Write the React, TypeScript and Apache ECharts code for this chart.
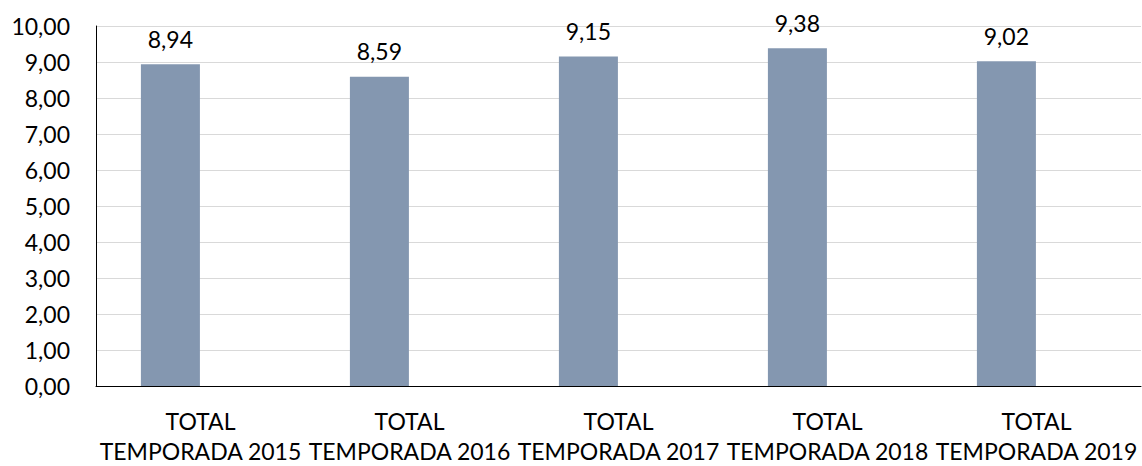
import React, { useEffect, useRef } from "react";
import * as echarts from "echarts";

const categories = [
  "TOTAL\nTEMPORADA 2015",
  "TOTAL\nTEMPORADA 2016",
  "TOTAL\nTEMPORADA 2017",
  "TOTAL\nTEMPORADA 2018",
  "TOTAL\nTEMPORADA 2019",
];
const values = [8.94, 8.59, 9.15, 9.38, 9.02];
const emptySeries: (number | string)[] = ["-", "-", "-", "-", "-"];

const fmt = (v: number) => v.toFixed(2).replace(".", ",");
const FONT = "Lato";

export default function App() {
  const ref = useRef<HTMLDivElement>(null);
  useEffect(() => {
    if (!ref.current) return;
    const chart = echarts.init(ref.current, null, { renderer: "svg" });
    chart.setOption({
      animation: false,
      backgroundColor: "#ffffff",
      grid: { left: 96, right: 1, top: 26, bottom: 78, containLabel: false },
      xAxis: {
        type: "category",
        data: categories,
        axisLine: { show: true, lineStyle: { color: "#000000", width: 1 } },
        axisTick: { show: false },
        axisLabel: {
          color: "#000000",
          fontFamily: FONT,
          fontSize: 23,
          lineHeight: 30,
          margin: 20,
          interval: 0,
        },
      },
      yAxis: {
        type: "value",
        min: 0,
        max: 10,
        interval: 1,
        axisLine: { show: true, lineStyle: { color: "#000000", width: 1 } },
        axisTick: { show: false },
        axisLabel: {
          color: "#000000",
          fontFamily: FONT,
          fontSize: 23,
          margin: 26,
          formatter: (v: number) => fmt(v),
        },
        splitLine: { show: true, lineStyle: { color: "#d9d9d9", width: 1 } },
      },
      series: [
        {
          type: "bar",
          data: values,
          barWidth: 59,
          barGap: "2%",
          itemStyle: { color: "#8497b0" },
          label: {
            show: true,
            position: "top",
            distance: 14,
            color: "#000000",
            fontFamily: FONT,
            fontSize: 23,
            formatter: (p: any) => fmt(p.value),
          },
        },
        {
          type: "bar",
          data: emptySeries,
          barWidth: 59,
          itemStyle: { color: "#8497b0" },
        },
      ],
    });
    return () => chart.dispose();
  }, []);
  return (
    <div
      ref={ref}
      style={{ position: "fixed", left: 0, top: 0, width: 1142, height: 466 }}
    />
  );
}
